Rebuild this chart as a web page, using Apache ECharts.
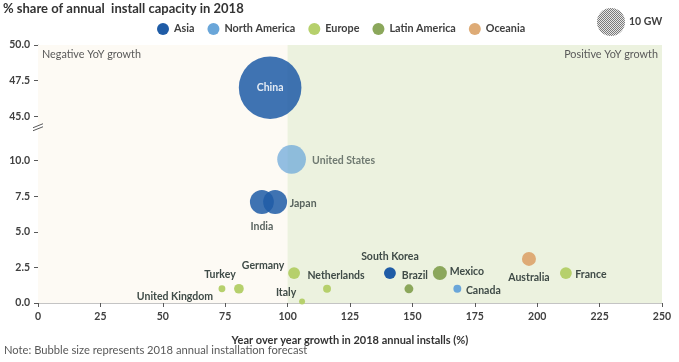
<!DOCTYPE html>
<html><head><meta charset="utf-8">
<script src="https://cdn.jsdelivr.net/npm/echarts@6/dist/echarts.min.js"></script>
<style>html,body{margin:0;padding:0;background:#fff}#c{width:679px;height:362px}</style>
</head><body><div id="c"></div>
<script>
// ---- data ----
const regions = ['Asia', 'North America', 'Europe', 'Latin America', 'Oceania'];
const xTickStep = 25;
const yTicks = [0, 2.5, 5, 7.5, 10, 45, 47.5, 50];
// [YoY growth %, share %, 2018 forecast GW, country]
const asia = [[93, 47.0, 50, 'China'], [89.7, 7.1, 7.3, 'India'], [95, 7.1, 7.3, 'Japan'], [141, 2.1, 1.8, 'South Korea']];
const northAmerica = [[101.6, 10.1, 10.5, 'United States'], [168, 1.0, 0.8, 'Canada']];
const europe = [[73.7, 1.0, 0.6, 'United Kingdom'], [80.5, 1.0, 1.2, 'Turkey'], [102.6, 2.1, 1.8, 'Germany'], [105.8, 0.1, 0.45, 'Italy'], [115.8, 1.0, 0.8, 'Netherlands'], [211.5, 2.1, 1.8, 'France']];
const latinAmerica = [[148.6, 1.0, 1.0, 'Brazil'], [161, 2.1, 2.5, 'Mexico']];
const oceania = [[196.7, 3.1, 2.5, 'Australia']];
const legendBubbleGW = 10;

// ---- presentation ----
const colors = ['#1f5ca6', '#6aa6d9', '#b6d06c', '#8ba75b', '#deab76'];
const labelOffsets = {
  'China': [0, 0], 'India': [0, 25], 'Japan': [28, 2], 'South Korea': [0, -17],
  'United States': [52, 1], 'Canada': [26, 2], 'United Kingdom': [-47, 8], 'Turkey': [-19, -14],
  'Germany': [-31, -8], 'Italy': [-16, -9], 'Netherlands': [9, -13], 'France': [25, 1],
  'Brazil': [6, -13], 'Mexico': [27, -2], 'Australia': [0, 19]
};
const opacityOverride = { 'China': 0.86, 'India': 0.86, 'Japan': 0.86, 'United States': 0.72 };
const sizeOf = gw => 28 * Math.sqrt(gw / 10);
const FONT = 'Lato';
const labelColor = '#3f4b47';

const chart = echarts.init(document.getElementById('c'));
const groups = [asia, northAmerica, europe, latinAmerica, oceania];

const series = groups.map((arr, i) => ({
  name: regions[i], type: 'scatter', z: 3,
  symbolSize: v => sizeOf(v[2]),
  itemStyle: { color: colors[i], opacity: 1 },
  data: arr.map(d => ({
    name: d[3], value: [d[0], d[1], d[2]],
    itemStyle: opacityOverride[d[3]] ? { opacity: opacityOverride[d[3]] } : undefined,
    label: {
      show: true, position: 'inside', formatter: d[3],
      offset: labelOffsets[d[3]] || [0, 0],
      color: d[3] === 'China' ? '#ffffff' : labelColor,
      fontFamily: FONT, fontWeight: 'bold', fontSize: 10.5
    }
  })),
  emphasis: { disabled: true }
}));

series.unshift({
  name: 'bg', type: 'scatter', data: [], z: 1, silent: true,
  markArea: {
    silent: true,
    label: { fontFamily: FONT, fontSize: 10.8, color: '#595959', distance: 4 },
    data: [
      [{ xAxis: 0, itemStyle: { color: '#fdfaf4' }, label: { position: 'insideTopLeft' }, name: 'Negative YoY growth' }, { xAxis: 100 }],
      [{ xAxis: 100, itemStyle: { color: '#ecf2df' }, label: { position: 'insideTopRight' }, name: 'Positive YoY growth' }, { xAxis: 250 }]
    ]
  }
});

chart.setOption({
  animation: false,
  textStyle: { fontFamily: FONT },
  title: {
    text: '% share of annual  install capacity in 2018', left: 3, top: 2, padding: 0,
    textStyle: { fontFamily: FONT, fontWeight: 'bold', fontSize: 13, color: '#333' }
  },
  legend: {
    data: regions, left: 152, top: 18, icon: 'circle', itemWidth: 12, itemHeight: 12, itemGap: 13,
    textStyle: { fontFamily: FONT, fontWeight: 'bold', fontSize: 10.8, color: '#404040' },
    selectedMode: false
  },
  grid: { left: 38, right: 17, top: 45, bottom: 59, show: true, backgroundColor: '#fdfaf4', borderWidth: 0 },
  xAxis: [{
    type: 'value', min: 0, max: 250, interval: xTickStep,
    name: 'Year over year growth in 2018 annual installs (%)', nameLocation: 'middle', nameGap: 32,
    nameTextStyle: { fontFamily: FONT, fontWeight: 'bold', fontSize: 11, color: '#333' },
    axisLine: { show: true, onZero: false, lineStyle: { color: '#595959' } },
    axisTick: { show: true, length: 4, lineStyle: { color: '#595959' } },
    axisLabel: { fontFamily: FONT, fontWeight: 'bold', fontSize: 10.5, color: '#404040', margin: 8 },
    splitLine: { show: false }
  }, {
    type: 'value', min: 0, max: 250, position: 'top',
    axisLine: { show: true, lineStyle: { color: '#c4c4c4' } },
    axisTick: { show: false }, axisLabel: { show: false }, splitLine: { show: false }
  }],
  yAxis: [{
    type: 'value', min: 0, max: 50,
    breaks: [{ start: 11, end: 44.5, gap: '9%' }],
    breakArea: { show: false },
    axisLine: { show: true, onZero: false, lineStyle: { color: '#595959' } },
    axisTick: { show: true, length: 4, customValues: yTicks, lineStyle: { color: '#595959' } },
    axisLabel: {
      fontFamily: FONT, fontWeight: 'bold', fontSize: 10.5, color: '#404040', margin: 8,
      customValues: yTicks, hideOverlap: false,
      formatter: v => Number(v).toFixed(1)
    },
    splitLine: { show: false }
  }, {
    type: 'value', min: 0, max: 50, position: 'right',
    axisLine: { show: true, lineStyle: { color: '#c4c4c4' } },
    axisTick: { show: false }, axisLabel: { show: false }, splitLine: { show: false }
  }],
  series: series
});

// decorations: size legend and axis-break mark
const pc = document.createElement('canvas'); pc.width = 2; pc.height = 2;
const g = pc.getContext('2d');
g.fillStyle = '#e6e6e6'; g.fillRect(0, 0, 2, 2);
g.fillStyle = '#7a7a7a'; g.fillRect(0, 0, 1, 1); g.fillRect(1, 1, 1, 1);

const ax = chart.convertToPixel({ xAxisIndex: 0 }, 0);
const yA = chart.convertToPixel({ yAxisIndex: 0 }, 44.5);
const yB = chart.convertToPixel({ yAxisIndex: 0 }, 11);
const yBreak = yA + (yB - yA) * 0.15;
const r = sizeOf(legendBubbleGW) / 2;

chart.setOption({
  graphic: [
    { type: 'circle', shape: { cx: 611, cy: 22, r: r }, style: { fill: { image: pc, repeat: 'repeat' } }, silent: true },
    { type: 'text', left: 629, top: 16, style: { text: '10 GW', fontFamily: FONT, fontWeight: 'bold', fontSize: 10.5, fill: '#404040' } },
    { type: 'text', left: 4, top: 345, style: { text: 'Note: Bubble size represents 2018 annual installation forecast', fontFamily: FONT, fontSize: 11.2, fill: '#595959' } },
    { type: 'polygon', shape: { points: [[ax - 5, yBreak + 1], [ax + 5, yBreak - 3], [ax + 5, yBreak], [ax - 5, yBreak + 4]] }, style: { fill: '#ffffff' }, z: 10 },
    { type: 'line', shape: { x1: ax - 5, y1: yBreak + 1, x2: ax + 5, y2: yBreak - 3 }, style: { stroke: '#595959', lineWidth: 1 }, z: 11 },
    { type: 'line', shape: { x1: ax - 5, y1: yBreak + 4, x2: ax + 5, y2: yBreak }, style: { stroke: '#595959', lineWidth: 1 }, z: 11 }
  ]
});
</script></body></html>
